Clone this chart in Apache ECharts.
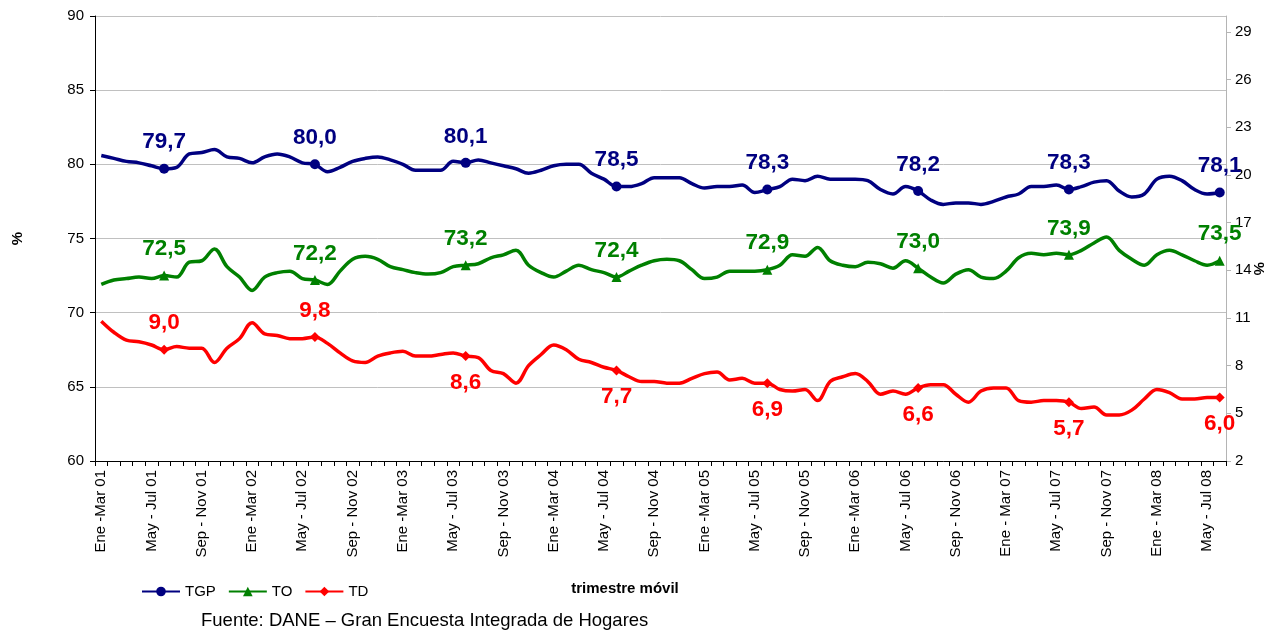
<!DOCTYPE html>
<html><head><meta charset="utf-8">
<script src="https://cdn.jsdelivr.net/npm/echarts@6/dist/echarts.min.js"></script>
<style>html,body{margin:0;padding:0;background:#fff}#c{width:1267px;height:630px}</style>
</head><body><div id="c"></div><script>
const categories = [
"Ene -Mar 01","Feb - Abr 01","Mar - May 01","Abr - Jun 01","May - Jul 01","Jun - Ago 01","Jul - Sep 01","Ago - Oct 01","Sep - Nov 01","Oct - Dic 01","Nov - Ene 02","Dic - Feb 02",
"Ene -Mar 02","Feb - Abr 02","Mar - May 02","Abr - Jun 02","May - Jul 02","Jun - Ago 02","Jul - Sep 02","Ago - Oct 02","Sep - Nov 02","Oct - Dic 02","Nov - Ene 03","Dic - Feb 03",
"Ene -Mar 03","Feb - Abr 03","Mar - May 03","Abr - Jun 03","May - Jul 03","Jun - Ago 03","Jul - Sep 03","Ago - Oct 03","Sep - Nov 03","Oct - Dic 03","Nov - Ene 04","Dic - Feb 04",
"Ene -Mar 04","Feb - Abr 04","Mar - May 04","Abr - Jun 04","May - Jul 04","Jun - Ago 04","Jul - Sep 04","Ago - Oct 04","Sep - Nov 04","Oct - Dic 04","Nov - Ene 05","Dic - Feb 05",
"Ene -Mar 05","Feb - Abr 05","Mar - May 05","Abr - Jun 05","May - Jul 05","Jun - Ago 05","Jul - Sep 05","Ago - Oct 05","Sep - Nov 05","Oct - Dic 05","Nov - Ene 06","Dic - Feb 06",
"Ene -Mar 06","Feb - Abr 06","Mar - May 06","Abr - Jun 06","May - Jul 06","Jun - Ago 06","Jul - Sep 06","Ago - Oct 06","Sep - Nov 06","Oct - Dic 06","Nov - Ene 07","Dic - Feb 07",
"Ene - Mar 07","Feb - Abr 07","Mar - May 07","Abr - Jun 07","May - Jul 07","Jun - Ago 07","Jul - Sep 07","Ago - Oct 07","Sep - Nov 07","Oct - Dic 07","Nov - Ene 08","Dic - Feb 08",
"Ene - Mar 08","Feb - Abr 08","Mar - May 08","Abr - Jun 08","May - Jul 08","Jun - Ago 08"
];
const tgp = [
80.6,80.4,80.2,80.1,79.9,79.7,79.8,80.7,80.8,81.0,80.5,80.4,80.1,80.5,80.7,
80.5,80.1,80.0,79.5,79.8,80.2,80.4,80.5,80.3,80.0,79.6,79.6,79.6,80.2,80.1,
80.3,80.1,79.9,79.7,79.4,79.6,79.9,80.0,80.0,79.4,79.0,78.5,78.5,78.7,79.1,
79.1,79.1,78.7,78.4,78.5,78.5,78.6,78.1,78.3,78.5,79.0,78.9,79.2,79.0,79.0,
79.0,78.9,78.3,78.0,78.5,78.2,77.6,77.3,77.4,77.4,77.3,77.5,77.8,78.0,78.5,
78.5,78.6,78.3,78.5,78.8,78.9,78.2,77.8,78.0,79.0,79.2,78.9,78.3,78.0,78.1
];
const to = [
71.9,72.2,72.3,72.4,72.3,72.5,72.4,73.4,73.5,74.3,73.1,72.4,71.5,72.4,72.7,
72.8,72.3,72.2,71.9,72.8,73.6,73.8,73.6,73.1,72.9,72.7,72.6,72.7,73.1,73.2,
73.3,73.7,73.9,74.2,73.2,72.7,72.4,72.8,73.2,72.9,72.7,72.4,72.8,73.2,73.5,
73.6,73.5,72.9,72.3,72.4,72.8,72.8,72.8,72.9,73.2,73.9,73.8,74.4,73.5,73.2,
73.1,73.4,73.3,73.0,73.5,73.0,72.4,72.0,72.6,72.9,72.4,72.3,72.8,73.7,74.0,
73.9,74.0,73.9,74.2,74.7,75.1,74.2,73.6,73.2,73.9,74.2,73.9,73.5,73.2,73.5
];
const td = [
10.8,10.1,9.6,9.5,9.3,9.0,9.2,9.1,9.1,8.2,9.1,9.7,10.7,10.0,9.9,
9.7,9.7,9.8,9.4,8.8,8.3,8.2,8.6,8.8,8.9,8.6,8.6,8.7,8.8,8.6,
8.5,7.7,7.5,6.9,8.0,8.7,9.3,9.0,8.4,8.2,7.9,7.7,7.3,7.0,7.0,
6.9,6.9,7.2,7.5,7.6,7.1,7.2,6.9,6.9,6.5,6.4,6.5,5.8,7.0,7.3,
7.5,7.0,6.2,6.4,6.2,6.6,6.8,6.8,6.2,5.7,6.4,6.6,6.6,5.8,5.7,
5.8,5.8,5.7,5.3,5.4,4.9,4.9,5.2,5.9,6.5,6.3,5.9,5.9,6.0,6.0
];
const markedIdx = [5,17,29,41,53,65,77,89];
const seriesNames = ["TGP","TO","TD"];

const FONT = 'Arial, "Liberation Sans", sans-serif';
const fmt = p => Number(p.value).toFixed(1).replace('.', ',');

function build(vals, sym, size, posFn) {
  return vals.map((v, i) => markedIdx.includes(i)
    ? { value: v, symbol: sym, symbolSize: size, label: { show: true, position: posFn(i) } }
    : { value: v, symbol: 'none' });
}

function mkSeries(name, vals, color, sym, size, yIdx, posFn) {
  return {
    name, type: 'line', yAxisIndex: yIdx, smooth: 0.35,
    symbol: sym, symbolSize: size, showAllSymbol: true,
    lineStyle: { color, width: 3.5 }, itemStyle: { color },
    label: { show: false, color, fontSize: 22.5, fontWeight: 'bold', fontFamily: FONT, distance: 10, formatter: fmt },
    data: build(vals, sym, size, posFn),
    z: 3
  };
}

const chart = echarts.init(document.getElementById('c'), null, { renderer: 'canvas' });
chart.setOption({
  animation: false,
  backgroundColor: '#fff',
  grid: { left: 95, right: 41, top: 16, bottom: 169 },
  legend: {
    data: seriesNames, left: 141, top: 584, padding: 0, itemWidth: 38, itemHeight: 12, itemGap: 12,
    textStyle: { fontSize: 15, color: '#000', fontFamily: FONT }
  },
  xAxis: {
    type: 'category', data: categories, boundaryGap: true,
    axisLine: { lineStyle: { color: '#000', width: 1 } },
    axisTick: { show: true, interval: 0, length: 5, lineStyle: { color: '#000' } },
    axisLabel: { interval: 3, rotate: 90, fontSize: 15, color: '#000', margin: 9, fontFamily: FONT },
    splitLine: { show: false }
  },
  yAxis: [
    {
      type: 'value', min: 60, max: 90, interval: 5,
      axisLine: { show: true, lineStyle: { color: '#000' } },
      axisTick: { show: true, length: 5, lineStyle: { color: '#000' } },
      axisLabel: { fontSize: 15, color: '#000', margin: 11, fontFamily: FONT },
      splitLine: { show: true, lineStyle: { color: '#c0c0c0', width: 1 } }
    },
    {
      type: 'value', min: 2, max: 30, interval: 3, position: 'right',
      axisLine: { show: true, lineStyle: { color: '#b4b4b4' } },
      axisTick: { show: true, length: 5, lineStyle: { color: '#b4b4b4' } },
      axisLabel: { fontSize: 15, color: '#000', margin: 9, showMaxLabel: false, fontFamily: FONT },
      splitLine: { show: false }
    }
  ],
  series: [
    mkSeries('TGP', tgp, '#000080', 'circle', 10, 0, () => 'top'),
    mkSeries('TO', to, '#008000', 'triangle', 10, 0, () => 'top'),
    mkSeries('TD', td, '#ff0000', 'diamond', 10, 1, i => (i < 20 ? 'top' : 'bottom'))
  ],
  graphic: [
    { type: 'text', left: 10, top: 232, rotation: Math.PI / 2, style: { text: '%', font: 'bold 15px ' + FONT, fill: '#000' } },
    { type: 'text', left: 1251, top: 262, rotation: -Math.PI / 2, style: { text: '%', font: 'bold 15px ' + FONT, fill: '#000' } },
    { type: 'text', x: 625, y: 589, style: { text: 'trimestre móvil', font: 'bold 15px ' + FONT, fill: '#000', align: 'center', verticalAlign: 'middle' } },
    { type: 'text', left: 201, top: 611, style: { text: 'Fuente: DANE – Gran Encuesta Integrada de Hogares', font: '18.5px ' + FONT, fill: '#000' } }
  ]
});
</script></body></html>
